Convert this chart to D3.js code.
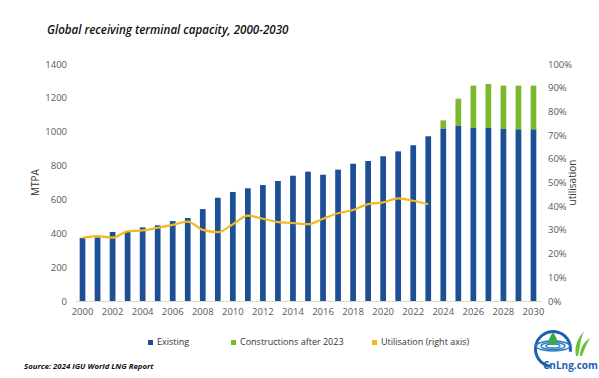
<!DOCTYPE html>
<html>
<head>
<meta charset="utf-8">
<script src="https://cdn.jsdelivr.net/npm/d3@7"></script>
<style>
  body { margin: 0; background: #fff; }
  text { font-family: "Open Sans", sans-serif; }
</style>
</head>
<body>
<script>
var years = d3.range(2000, 2031);
var existing = [372, 376, 408, 412, 435, 447, 472, 490, 543, 610, 644, 666, 685, 709, 740, 764,
    746, 776, 811, 827, 855, 884, 920, 973, 1018, 1034, 1022, 1022, 1016, 1014, 1014];
var totalCapacity = [null, null, null, null, null, null, null, null, null, null, null, null, null, null, null, null,
    null, null, null, null, null, null, null, null, 1067, 1195, 1272, 1282, 1272, 1272, 1272];
var utilisation = [26.7, 27.4, 26.7, 29.4, 29.8, 30.9, 32.1, 33.5, 30.0, 29.1, 32.4, 36.0, 34.7, 33.3, 32.9, 32.4,
    34.7, 37.0, 38.4, 40.9, 41.6, 43.3, 42.3, 40.8];
var leftTicks = [0, 200, 400, 600, 800, 1000, 1200, 1400];
var rightTicks = [0, 10, 20, 30, 40, 50, 60, 70, 80, 90, 100];
var xLabels = d3.range(2000, 2031, 2);

var blue = "#1c4f96", green = "#7ab82e", yellow = "#f4b81c", grey = "#595959";

var width = 599, height = 378;
var margin = {top: 64, right: 58, bottom: 77, left: 75};

var svg = d3.select("body").append("svg")
    .attr("width", width)
    .attr("height", height);

var x = d3.scaleBand()
    .domain(years)
    .range([margin.left, width - margin.right])
    .paddingInner(0.62)
    .paddingOuter(0.31);

var y = d3.scaleLinear()
    .domain([0, 1400])
    .range([height - margin.bottom, margin.top]);

var y2 = d3.scaleLinear()
    .domain([0, 100])
    .range([height - margin.bottom, margin.top]);

// title
svg.append("text")
    .attr("x", 47)
    .attr("y", 34)
    .style("font-size", "11.6px")
    .style("font-style", "italic")
    .style("font-weight", 600)
    .attr("fill", "#111")
    .text("Global receiving terminal capacity, 2000-2030");

// left axis
var yAxis = d3.axisLeft(y).tickValues(leftTicks).tickSize(0).tickPadding(8)
    .tickFormat(d3.format("d"));
var gy = svg.append("g")
    .attr("transform", "translate(" + margin.left + ",0)")
    .call(yAxis);
gy.select(".domain").remove();
gy.selectAll("text").style("font-size", "9.5px").attr("fill", grey);

// right axis
var y2Axis = d3.axisRight(y2).tickValues(rightTicks).tickSize(0).tickPadding(7)
    .tickFormat(d => d + "%");
var gy2 = svg.append("g")
    .attr("transform", "translate(" + (width - margin.right) + ",0)")
    .call(y2Axis);
gy2.select(".domain").remove();
gy2.selectAll("text").style("font-size", "9.5px").attr("fill", grey);

// x axis
var xAxis = d3.axisBottom(x).tickValues(xLabels).tickSize(0).tickPadding(7);
var gx = svg.append("g")
    .attr("transform", "translate(0," + (height - margin.bottom) + ")")
    .call(xAxis);
gx.select(".domain").attr("stroke", "#d9d9d9");
gx.selectAll("text").style("font-size", "9.5px").attr("fill", grey);

// axis titles
svg.append("text")
    .attr("transform", "translate(39," + ((margin.top + height - margin.bottom) / 2) + ") rotate(-90)")
    .attr("text-anchor", "middle")
    .style("font-size", "10px")
    .attr("fill", "#333")
    .text("MTPA");

svg.append("text")
    .attr("transform", "translate(576," + ((margin.top + height - margin.bottom) / 2) + ") rotate(-90)")
    .attr("text-anchor", "middle")
    .style("font-size", "10px")
    .attr("fill", "#333")
    .text("utilisation");

// bars: total (green) behind, existing (blue) in front
var totals = years.map((yr, i) => ({year: yr, total: totalCapacity[i], existing: existing[i]}));

svg.append("g").selectAll("rect")
    .data(totals.filter(d => d.total != null))
    .enter().append("rect")
    .attr("x", d => x(d.year))
    .attr("width", x.bandwidth())
    .attr("y", d => y(d.total))
    .attr("height", d => y(d.existing) - y(d.total))
    .attr("fill", green);

svg.append("g").selectAll("rect")
    .data(totals)
    .enter().append("rect")
    .attr("x", d => x(d.year))
    .attr("width", x.bandwidth())
    .attr("y", d => y(d.existing))
    .attr("height", d => y(0) - y(d.existing))
    .attr("fill", blue);

// utilisation line
var line = d3.line()
    .x((d, i) => x(years[i]) + x.bandwidth() / 2)
    .y(d => y2(d))
    .curve(d3.curveMonotoneX);

svg.append("path")
    .datum(utilisation)
    .attr("d", line)
    .attr("fill", "none")
    .attr("stroke", yellow)
    .attr("stroke-width", 2.2);

// legend
var legend = [
    {label: "Existing", color: blue, x: 148},
    {label: "Constructions after 2023", color: green, x: 231},
    {label: "Utilisation (right axis)", color: yellow, x: 372}
];
var lg = svg.append("g").selectAll("g")
    .data(legend)
    .enter().append("g")
    .attr("transform", d => "translate(" + d.x + ",345)");
lg.append("rect")
    .attr("x", 0).attr("y", -5)
    .attr("width", 5).attr("height", 5)
    .attr("fill", d => d.color);
lg.append("text")
    .attr("x", 9).attr("y", 0)
    .style("font-size", "9px")
    .attr("fill", "#333")
    .text(d => d.label);

// source
svg.append("text")
    .attr("x", 24)
    .attr("y", 369)
    .style("font-size", "7.8px")
    .style("font-style", "italic")
    .style("font-weight", 700)
    .attr("fill", "#111")
    .text("Source: 2024 IGU World LNG Report");

// logo
var logo = svg.append("g");
logo.append("path")
    .attr("d", d3.arc()({innerRadius: 16, outerRadius: 19, startAngle: -Math.PI * 0.95, endAngle: Math.PI * 0.55}))
    .attr("transform", "translate(553,349)")
    .attr("fill", "#1b5fae");
[[17, 5], [12, 3.5], [7, 2]].forEach(function (r) {
    logo.append("ellipse")
        .attr("cx", 553).attr("cy", 346)
        .attr("rx", r[0]).attr("ry", r[1])
        .attr("fill", "none")
        .attr("stroke", "#2a7cc7")
        .attr("stroke-width", 1.4);
});
logo.append("path")
    .attr("d", "M553,332 C556,337 558,340 557,343 C556,346 550,346 549,343 C548,340 550,337 553,332 Z")
    .attr("fill", "#3aa84a");
logo.append("path")
    .attr("d", "M576,356 C574,346 578,338 584,331 C580,340 580,348 578,356 Z M580,356 C580,348 584,342 590,338 C586,345 584,350 582,356 Z")
    .attr("fill", "#6cbf3c");
logo.append("text")
    .attr("x", 543).attr("y", 369)
    .style("font-size", "10px")
    .style("font-weight", 700)
    .attr("fill", "#1b5fae")
    .text("CnLng.com");
</script>
</body>
</html>
